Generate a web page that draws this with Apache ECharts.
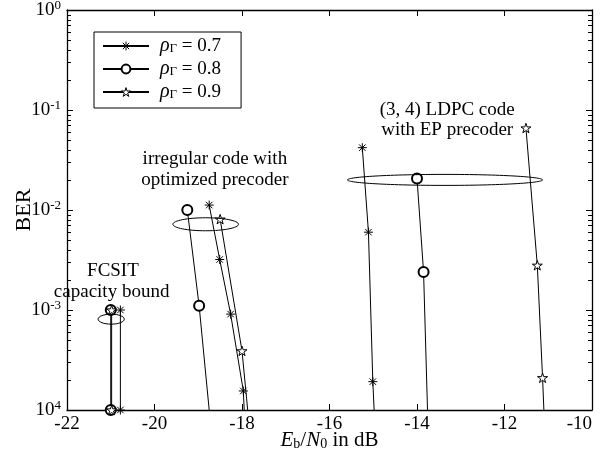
<!DOCTYPE html>
<html><head><meta charset="utf-8">
<script src="https://cdn.jsdelivr.net/npm/echarts@6/dist/echarts.min.js"></script>
<style>html,body{margin:0;padding:0;background:#fff}#c{width:607px;height:451px}</style>
</head><body><div id="c"></div>
<script>
// ---------- data ----------
const xTickValues = [-22, -20, -18, -16, -14, -12, -10];
const yTickValues = [1, 0.1, 0.01, 0.001, 0.0001];
const yTickExponents = ['0', '-1', '-2', '-3', '4'];
const yMinorFactors = [2, 3, 4, 5, 6, 7, 8, 9];
const rhoValues = ['0.7', '0.8', '0.9'];

// FCSIT capacity bound
const fcsit07 = [[-20.78, 1e-3], [-20.78, 1e-4]];
const fcsit08 = [[-21.00, 1e-3], [-21.00, 1e-4]];
const fcsit09 = [[-20.98, 1e-3], [-20.98, 1e-4]];
// irregular code with optimized precoder
const irr07 = [[-18.75, 1.12e-2], [-18.51, 3.2e-3], [-18.26, 9.1e-4], [-17.97, 1.55e-4], [-17.95, 1e-4]];
const irr08 = [[-19.25, 1.0e-2], [-18.98, 1.1e-3], [-18.75, 1e-4]];
const irr09 = [[-18.50, 8.1e-3], [-18.00, 3.9e-4], [-17.87, 1e-4]];
// (3,4) LDPC code with EP precoder
const ldpc07 = [[-15.25, 4.2e-2], [-15.11, 6.0e-3], [-15.01, 1.92e-4], [-14.98, 1e-4]];
const ldpc08 = [[-14.00, 2.07e-2], [-13.85, 2.4e-3], [-13.76, 1e-4]];
const ldpc09 = [[-11.51, 6.6e-2], [-11.25, 2.8e-3], [-11.13, 2.1e-4], [-11.10, 1e-4]];

// annotation ellipses: [centerX, centerY, halfWidth (dB), halfHeight (decades)]
const ellipseFCSIT = [-20.99, 8.1e-4, 0.30, 0.05];
const ellipseIrr = [-18.83, 7.2e-3, 0.75, 0.065];
const ellipseLDPC = [-13.36, 2.0e-2, 2.23, 0.055];
// annotation texts: [x, y, text]
const notes = [
  [-20.95, 2.45e-3, 'FCSIT'],
  [-20.98, 1.5e-3, 'capacity bound'],
  [-18.62, 3.2e-2, 'irregular code with'],
  [-18.62, 2.0e-2, 'optimized precoder'],
  [-13.31, 1.0e-1, '(3, 4) LDPC code'],
  [-13.31, 6.3e-2, 'with EP precoder']
];

// ---------- styling ----------
const FONT = 'Liberation Serif';
const asterisk = 'path://M0,-5L0,5M-5,0L5,0M-3.6,-3.6L3.6,3.6M-3.6,3.6L3.6,-3.6';
function starPath() {
  let d = 'path://';
  for (let k = 0; k < 10; k++) {
    const r = k % 2 === 0 ? 10 : 3.82;
    const a = (-90 + 36 * k) * Math.PI / 180;
    d += (k === 0 ? 'M' : 'L') + (r * Math.cos(a)).toFixed(3) + ',' + (r * Math.sin(a)).toFixed(3);
  }
  return d + 'Z';
}
const markerStyle = {
  '0.7': { symbol: asterisk, size: 9, fill: '#000' },
  '0.8': { symbol: 'emptyCircle', size: 10, fill: '#000' },
  '0.9': { symbol: starPath(), size: 10, fill: '#fff' }
};
const groups = [
  { rho: '0.7', data: fcsit07, endMarker: true },
  { rho: '0.8', data: fcsit08, endMarker: true },
  { rho: '0.9', data: fcsit09, endMarker: true },
  { rho: '0.7', data: irr07, endMarker: false },
  { rho: '0.8', data: irr08, endMarker: false },
  { rho: '0.9', data: irr09, endMarker: false },
  { rho: '0.7', data: ldpc07, endMarker: false },
  { rho: '0.8', data: ldpc08, endMarker: false },
  { rho: '0.9', data: ldpc09, endMarker: false }
];

const series = groups.map(g => {
  const m = markerStyle[g.rho];
  return {
    type: 'line', name: g.rho,
    data: g.data.map((p, i) => (i === g.data.length - 1 && !g.endMarker) ? { value: p, symbol: 'none' } : p),
    symbol: m.symbol, symbolSize: m.size, symbolKeepAspect: true, showSymbol: true,
    lineStyle: { color: '#000', width: 1 },
    itemStyle: { color: m.fill, borderColor: '#000', borderWidth: 1 },
    emphasis: { disabled: true },
    silent: true, clip: true
  };
});

const chart = echarts.init(document.getElementById('c'), null, { renderer: 'canvas' });
const axisLine = { show: true, lineStyle: { color: '#000', width: 1.3 } };
const supRich = {
  b: { fontFamily: FONT, fontSize: 19, color: '#000' },
  s: { fontFamily: FONT, fontSize: 13, color: '#000', verticalAlign: 'top', padding: [0, 0, 8, 0] }
};
chart.setOption({
  animation: false,
  backgroundColor: '#fff',
  grid: { left: 67, right: 15, top: 10, bottom: 41, containLabel: false, outerBoundsMode: 'none' },
  legend: {
    left: 94, top: 32, orient: 'vertical', selectedMode: false,
    data: rhoValues.map(r => ({
      name: r,
      itemStyle: { color: markerStyle[r].fill, borderColor: '#000', borderWidth: 1 }
    })),
    itemWidth: 46, itemHeight: 11, itemGap: 3,
    padding: [4, 20, 6, 8], borderColor: '#000', borderWidth: 1, backgroundColor: '#fff',
    formatter: n => '{r|ρ}{g|Γ}{t| = ' + n + '}',
    textStyle: {
      fontFamily: FONT, fontSize: 19, color: '#000', lineHeight: 18,
      rich: {
        r: { fontFamily: FONT, fontSize: 20, fontStyle: 'italic', color: '#000', padding: [0, 0, 0, 6], lineHeight: 18 },
        g: { fontFamily: FONT, fontSize: 13, color: '#000', verticalAlign: 'bottom', padding: [6, 0, 0, 0], lineHeight: 12 },
        t: { fontFamily: FONT, fontSize: 19, color: '#000', lineHeight: 18 }
      }
    }
  },
  xAxis: [{
    type: 'value', min: -22, max: -10, interval: 2,
    axisLine: axisLine,
    axisTick: { show: true, inside: true, length: 6, lineStyle: { color: '#000' } },
    splitLine: { show: false },
    axisLabel: {
      fontFamily: FONT, fontSize: 19, color: '#000', margin: 5, alignMaxLabel: 'right',
      formatter: v => xTickValues.includes(v) ? String(v) : ''
    },
    name: '{i|E}{sb|b}{n|/}{i|N}{sb|0}{n| in dB}', nameLocation: 'middle', nameGap: 20,
    nameMoveOverlap: false,
    nameTextStyle: {
      fontFamily: FONT, fontSize: 21, color: '#000',
      rich: {
        i: { fontFamily: FONT, fontSize: 21, fontStyle: 'italic', color: '#000' },
        n: { fontFamily: FONT, fontSize: 21, color: '#000' },
        sb: { fontFamily: FONT, fontSize: 14, color: '#000', verticalAlign: 'bottom', padding: [6, 0, 0, 0] }
      }
    }
  }, {
    type: 'value', position: 'top', min: -22, max: -10, interval: 2,
    axisLine: axisLine,
    axisTick: { show: true, inside: true, length: 6, lineStyle: { color: '#000' } },
    axisLabel: { show: false }, splitLine: { show: false }
  }],
  yAxis: [{
    type: 'log', logBase: 10, min: 1e-4, max: 1,
    axisLine: axisLine,
    axisTick: { show: true, inside: true, length: 6, lineStyle: { color: '#000' } },
    splitLine: { show: false },
    axisLabel: {
      margin: 6,
      formatter: v => {
        const idx = yTickValues.findIndex(t => Math.abs(Math.log10(t) - Math.log10(v)) < 1e-6);
        return idx < 0 ? '' : '{b|10}{s|' + yTickExponents[idx] + '}';
      },
      rich: supRich
    },
    name: 'BER', nameLocation: 'middle', nameGap: 32, nameRotate: 90,
    nameMoveOverlap: false,
    nameTextStyle: { fontFamily: FONT, fontSize: 22, color: '#000' }
  }, {
    type: 'log', logBase: 10, min: 1e-4, max: 1, position: 'right',
    axisLine: axisLine,
    axisTick: { show: true, inside: true, length: 6, lineStyle: { color: '#000' } },
    axisLabel: { show: false }, splitLine: { show: false }
  }],
  series: series
});

// annotations & minor log ticks placed through the chart's own coordinate conversion
const graphics = [];
const toPx = (x, y) => chart.convertToPixel({ xAxisIndex: 0, yAxisIndex: 0 }, [x, y]);
const leftX = toPx(-22, 1)[0], rightX = toPx(-10, 1)[0];
yTickValues.slice(1).forEach(dec => {
  yMinorFactors.forEach(f => {
    const y = Math.round(toPx(-22, dec * f)[1]) + 0.5;
    graphics.push({ type: 'line', z: 10, shape: { x1: leftX, y1: y, x2: leftX + 4, y2: y }, style: { stroke: '#000', lineWidth: 1 }, silent: true });
    graphics.push({ type: 'line', z: 10, shape: { x1: rightX - 4, y1: y, x2: rightX, y2: y }, style: { stroke: '#000', lineWidth: 1 }, silent: true });
  });
});
[ellipseFCSIT, ellipseIrr, ellipseLDPC].forEach(e => {
  const c = toPx(e[0], e[1]);
  const r = toPx(e[0] + e[2], e[1] * Math.pow(10, e[3]));
  graphics.push({
    type: 'ellipse', shape: { cx: c[0], cy: c[1], rx: Math.abs(r[0] - c[0]), ry: Math.abs(c[1] - r[1]) },
    style: { fill: 'none', stroke: '#000', lineWidth: 1 }, silent: true, z: 5
  });
});
notes.forEach(n => {
  const p = toPx(n[0], n[1]);
  graphics.push({
    type: 'text', x: p[0], y: p[1], silent: true, z: 6,
    style: { text: n[2], fontFamily: FONT, fontSize: 19, fill: '#000', align: 'center', verticalAlign: 'middle' }
  });
});
chart.setOption({ graphic: graphics });
</script>
</body></html>
